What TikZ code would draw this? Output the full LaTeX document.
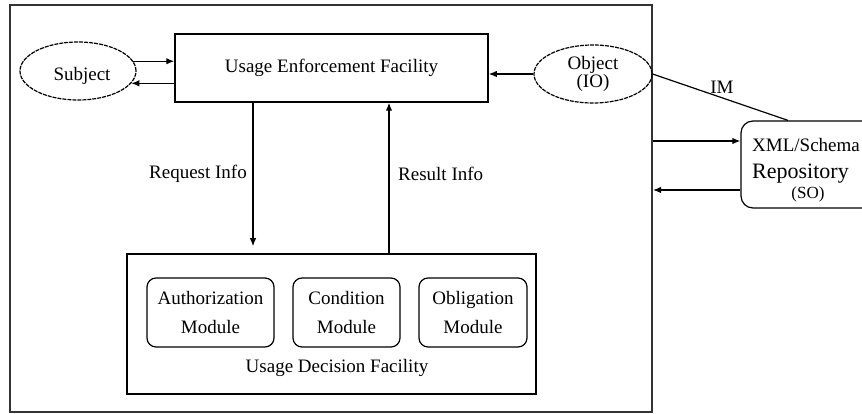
\documentclass[tikz,border=0pt]{standalone}
\usepackage{fontspec}
\setmainfont{Liberation Serif}
\usetikzlibrary{arrows.meta,shapes.geometric,calc}

\begin{document}
\begin{tikzpicture}[x=1pt,y=-1pt,
  every node/.style={font=\fontsize{19}{22}\selectfont, text=black},
  arr/.style={-{Latex[length=8pt,width=6.5pt]}, line width=1.3pt},
  link/.style={line width=1.2pt},
  box/.style={draw, line width=1.5pt, inner sep=0pt},
  oval/.style={ellipse, draw, dash pattern=on 4pt off 1pt, line width=1.2pt, inner sep=0pt, align=center},
  module/.style={draw, rounded corners=9pt, line width=1.2pt, inner sep=0pt, align=center,
                 font=\fontsize{19}{29}\selectfont},
  lbl/.style={inner sep=0pt}]
\useasboundingbox (0,0) rectangle (862,414);
\fill[white] (0,0) rectangle (862,414);
\clip (0,0) rectangle (862,414);

% outer system boundary
\node[box, line width=2pt, draw=black!80, minimum width=642pt, minimum height=407pt] (frame) at (331,208.5) {};

% enforcement facility and the actors around it
\node[box, minimum width=313pt, minimum height=68pt] (uef) at (331.5,68) {Usage Enforcement Facility};
\node[oval, minimum width=116pt, minimum height=58pt] (subj) at (78,71) {};
\node[lbl] (subjlbl) at (82,76) {Subject};
\node[oval, minimum width=118pt, minimum height=58pt, font=\fontsize{19}{18}\selectfont] (obj) at (593,74) {Object\\(IO)};

% decision facility with its three modules
\node[box, minimum width=409pt, minimum height=140pt] (udf) at (331.5,324) {};
\node[module, minimum width=127pt, minimum height=69pt] (auth) at (210.5,312.5) {Authorization\\Module};
\node[module, minimum width=107pt, minimum height=69pt] (cond) at (346.5,312.5) {Condition\\Module};
\node[module, minimum width=108pt, minimum height=69pt] (obl) at (473,312.5) {Obligation\\Module};
\node[lbl] (udflabel) at (337,368) {Usage Decision Facility};

% external repository
\node[draw, rounded corners=12pt, line width=1.2pt, minimum width=149pt, minimum height=87pt] (repo) at (815.5,164.5) {};
\node[lbl, anchor=west] (repo1) at (752,145) {XML/Schema};
\node[lbl, anchor=west, font=\fontsize{22}{24}\selectfont] (repo2) at (752,174) {Repository};
\node[lbl, font=\fontsize{17}{20}\selectfont] (repo3) at (808,194) {(SO)};

% helper levels for horizontal connectors
\coordinate (reqx) at (253,0);
\coordinate (resx) at (389,0);
\coordinate (toRepo) at (0,141);
\coordinate (fromRepo) at (0,190);

% connectors
\draw[arr] (subj.10) -- (subj.10 -| uef.west);
\draw[arr] (uef.west |- subj.-13) -- (subj.-13);
\draw[arr] (obj.west) -- (obj.west -| uef.east);
\draw[arr, shorten >=7pt] (uef.south -| reqx) -- (udf.north -| reqx);
\draw[arr] (udf.north -| resx) -- (uef.south -| resx);
\draw[link] (obj.east) -- ($(repo.north)+(-27.5,0)$);
\draw[arr] (frame.east |- toRepo) -- (repo.west |- toRepo);
\draw[arr] (repo.west |- fromRepo) -- (frame.east |- fromRepo);

% connector labels
\node[lbl, anchor=east] (reqlbl) at (247,174) {Request Info};
\node[lbl, anchor=west] (reslbl) at (398,174) {Result Info};
\node[lbl] (imlbl) at (722,87) {IM};
\end{tikzpicture}
\end{document}
